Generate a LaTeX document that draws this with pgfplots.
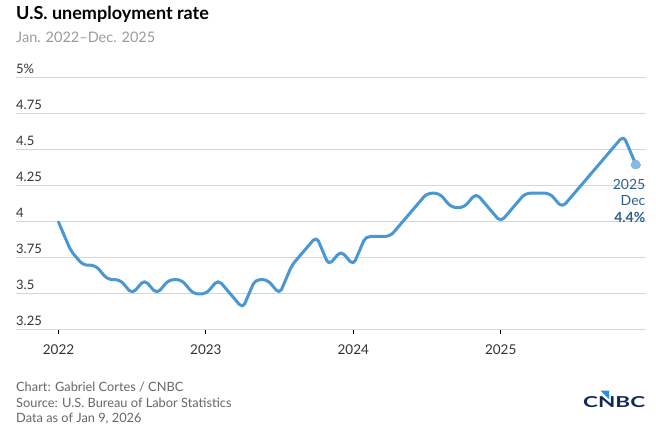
\documentclass[border=0pt]{standalone}
\usepackage{fontspec}
\setmainfont{Lato}
\usepackage{graphicx}
\usepackage{pgfplots}
\pgfplotsset{compat=1.18}

\definecolor{linec}{HTML}{4A97D2}
\definecolor{markc}{HTML}{86BAE6}
\definecolor{gridc}{HTML}{D6D6D6}
\definecolor{labc}{HTML}{333333}
\definecolor{subc}{HTML}{9A9A9A}
\definecolor{footc}{HTML}{666666}
\definecolor{annc}{HTML}{2B5F8E}
\definecolor{navy}{HTML}{13285A}
\definecolor{peacock}{HTML}{2A8BE0}

\begin{document}
\begin{tikzpicture}[x=1pt,y=1pt]

\begin{axis}[
  scale only axis,
  width=630pt, height=252pt,
  xmin=-3.46, xmax=47.83,
  ymin=3.25, ymax=5,
  axis line style={draw=none},
  tick pos=left,
  tick align=outside,
  major tick length=4pt,
  xtick={0,12,24,36},
  xticklabels={2022,2023,2024,2025},
  ytick={3.25,3.5,3.75,4,4.25,4.5,4.75,5},
  yticklabels={3.25,3.5,3.75,4,4.25,4.5,4.75,5\%},
  ytick style={draw=none},
  xtick style={draw=black, line width=1pt},
  ymajorgrids,
  grid style={gridc, line width=1pt},
  /pgf/number format/assume math mode=true,
  yticklabel style={anchor=south west, inner sep=0pt, xshift=4pt, yshift=4pt,
    text=labc, font=\fontsize{13}{15}\selectfont},
  xticklabel style={anchor=base, inner sep=0pt, yshift=-21pt,
    text=labc, font=\fontsize{13.5}{15}\selectfont},
  clip=false,
]
\coordinate (o) at (axis cs:-3.46,3.25);
\addplot[linec, line width=3pt, rounded corners=5pt, line join=round, line cap=round]
coordinates {
  (0,4.0) (1,3.8) (2,3.7) (3,3.7) (4,3.6) (5,3.6) (6,3.5) (7,3.6)
  (8,3.5) (9,3.6) (10,3.6) (11,3.5)
  (12,3.5) (13,3.6) (14,3.5) (15,3.4) (16,3.6) (17,3.6) (18,3.5) (19,3.7)
  (20,3.8) (21,3.9) (22,3.7) (23,3.8)
  (24,3.7) (25,3.9) (26,3.9) (27,3.9) (28,4.0) (29,4.1) (30,4.2) (31,4.2)
  (32,4.1) (33,4.1) (34,4.2) (35,4.1)
  (36,4.0) (37,4.1) (38,4.2) (39,4.2) (40,4.2) (41,4.1) (42,4.2) (43,4.3)
  (44,4.4) (46,4.6) (47,4.4)
};
\addplot[only marks, mark=*, mark size=4.5pt, color=markc,
  mark options={draw=markc, fill=markc, line width=0pt}]
coordinates {(47,4.4)};
\end{axis}

% everything else in pixel coordinates of the reference (origin bottom left)
\begin{scope}[shift={(o)}, xshift=-16pt, yshift=-103pt]
% title block
\node[anchor=base west, inner sep=0] at (16,413)
  {\fontsize{18}{20}\selectfont\bfseries U.S. unemployment rate};
\node[anchor=base west, inner sep=0, text=subc] at (16,390)
  {\fontsize{14.5}{16}\selectfont Jan. 2022--Dec. 2025};

% end annotation
\node[anchor=base east, inner sep=0, text=annc] at (645.5,243.7)
  {\fontsize{14}{16}\selectfont 2025};
\node[anchor=base east, inner sep=0, text=annc] at (645.5,227)
  {\fontsize{14}{16}\selectfont Dec};
\node[anchor=base east, inner sep=0, text=annc] at (645.5,210.3)
  {\fontsize{14}{16}\selectfont\bfseries 4.4\%};

% footer
\node[anchor=base west, inner sep=0, text=footc] at (16,41.3)
  {\fontsize{12.8}{14}\selectfont Chart: Gabriel Cortes / CNBC};
\node[anchor=base west, inner sep=0, text=footc] at (16,25.7)
  {\fontsize{12.8}{14}\selectfont Source: U.S. Bureau of Labor Statistics};
\node[anchor=base west, inner sep=0, text=footc] at (16,10)
  {\fontsize{12.8}{14}\selectfont Data as of Jan 9, 2026};

% logo
\node[anchor=south west, inner sep=0, text=navy] at (583,25)
  {\resizebox{62pt}{11pt}{\bfseries CNBC}};
\fill[peacock] (600.5,42.3) -- (609,42.3) -- (609,34) -- cycle;
\end{scope}

\pgfresetboundingbox
\begin{scope}[shift={(o)}, xshift=-16pt, yshift=-103pt]
\path[use as bounding box] (0,0) rectangle (656,433);
\end{scope}
\end{tikzpicture}
\end{document}
